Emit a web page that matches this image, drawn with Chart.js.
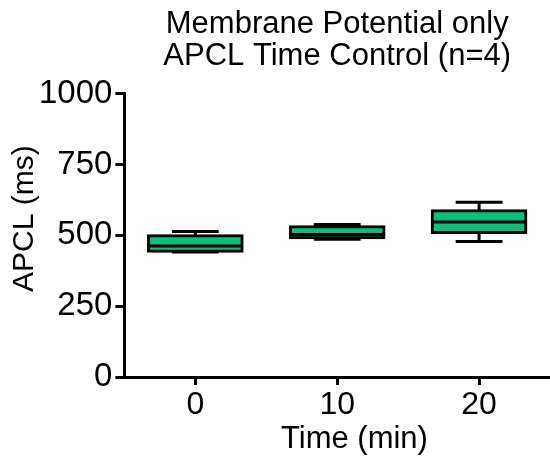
<!DOCTYPE html>
<html>
<head>
<meta charset="utf-8">
<script src="https://cdn.jsdelivr.net/npm/chart.js@4.4.1/dist/chart.umd.min.js"></script>
<style>
  html, body { margin: 0; padding: 0; background: #fff; }
  #wrap { width: 550px; height: 462px; }
</style>
</head>
<body>
<div id="wrap"><canvas id="grafico"></canvas></div>
<script>
// APCL por tempo (ms): resumo de cada caixa
const tempos = ['0', '10', '20'];
const minimos = [441, 486, 478];
const q1 = [444, 491, 510];
const medianas = [462, 503, 547];
const q3 = [498, 530, 587];
const maximos = [513, 538, 617];
const ticksY = [0, 250, 500, 750, 1000];

const verde = 'rgb(13, 191, 123)';
const fonte = "'Liberation Sans', Arial, sans-serif";

// bigodes e medianas desenhados com as escalas do próprio gráfico
const boxplotExtras = {
  id: 'boxplotExtras',
  beforeDatasetsDraw(chart) {
    const { ctx, scales: { x, y } } = chart;
    const meta = chart.getDatasetMeta(0);
    ctx.save();
    ctx.strokeStyle = '#000';
    ctx.lineWidth = 3;
    meta.data.forEach((bar, i) => {
      const cx = x.getPixelForValue(i);
      const meia = bar.width * 0.25;
      [[maximos[i], q3[i]], [minimos[i], q1[i]]].forEach(([ponta, borda]) => {
        const yp = y.getPixelForValue(ponta);
        ctx.beginPath();
        ctx.moveTo(cx, yp);
        ctx.lineTo(cx, y.getPixelForValue(borda));
        ctx.moveTo(cx - meia, yp);
        ctx.lineTo(cx + meia, yp);
        ctx.stroke();
      });
    });
    ctx.restore();
  },
  afterDatasetsDraw(chart) {
    const { ctx, scales: { y } } = chart;
    const meta = chart.getDatasetMeta(0);
    ctx.save();
    ctx.strokeStyle = '#000';
    ctx.lineWidth = 3;
    meta.data.forEach((bar, i) => {
      const ym = y.getPixelForValue(medianas[i]);
      ctx.beginPath();
      ctx.moveTo(bar.x - bar.width / 2, ym);
      ctx.lineTo(bar.x + bar.width / 2, ym);
      ctx.stroke();
    });
    ctx.restore();
  }
};

const ctx = document.getElementById('grafico').getContext('2d');
new Chart(ctx, {
  type: 'bar',
  data: {
    labels: tempos,
    datasets: [{
      label: 'APCL',
      data: tempos.map((t, i) => [q1[i], q3[i]]),
      backgroundColor: verde,
      borderColor: '#000',
      borderWidth: 3,
      borderSkipped: false,
      inflateAmount: 1.5,
      barPercentage: 0.66,
      categoryPercentage: 1
    }]
  },
  plugins: [boxplotExtras],
  options: {
    responsive: true,
    maintainAspectRatio: false,
    animation: false,
    layout: { padding: { left: 2, right: 0, top: 6, bottom: 7 } },
    scales: {
      x: {
        grid: { offset: false, drawOnChartArea: false, color: '#000', lineWidth: 3, tickLength: 8 },
        border: { color: '#000', width: 3 },
        ticks: { color: '#000', font: { family: fonte, size: 32, lineHeight: 1 }, padding: 4 },
        title: {
          display: true,
          text: '    Time (min)',
          color: '#000',
          font: { family: fonte, size: 31, lineHeight: 1 },
          padding: { top: -1, bottom: 0 }
        }
      },
      y: {
        min: 0,
        max: 1000,
        afterBuildTicks: axis => { axis.ticks = ticksY.map(v => ({ value: v })); },
        grid: { drawOnChartArea: false, color: '#000', lineWidth: 3, tickLength: 9 },
        border: { color: '#000', width: 3 },
        ticks: {
          color: '#000',
          font: { family: fonte, size: 33 },
          padding: 3,
          callback: v => String(v)
        },
        title: {
          display: true,
          text: '    APCL (ms)',
          color: '#000',
          font: { family: fonte, size: 30, lineHeight: 1 },
          padding: { top: 8, bottom: -4 }
        }
      }
    },
    plugins: {
      legend: { display: false },
      tooltip: { enabled: false },
      title: {
        display: true,
        fullSize: false,
        text: ['Membrane Potential only', 'APCL Time Control (n=4)'],
        color: '#000',
        font: { family: fonte, size: 31, weight: 'normal', lineHeight: 1.05 },
        padding: { top: 2, bottom: 20.5 }
      }
    }
  }
});
</script>
</body>
</html>
